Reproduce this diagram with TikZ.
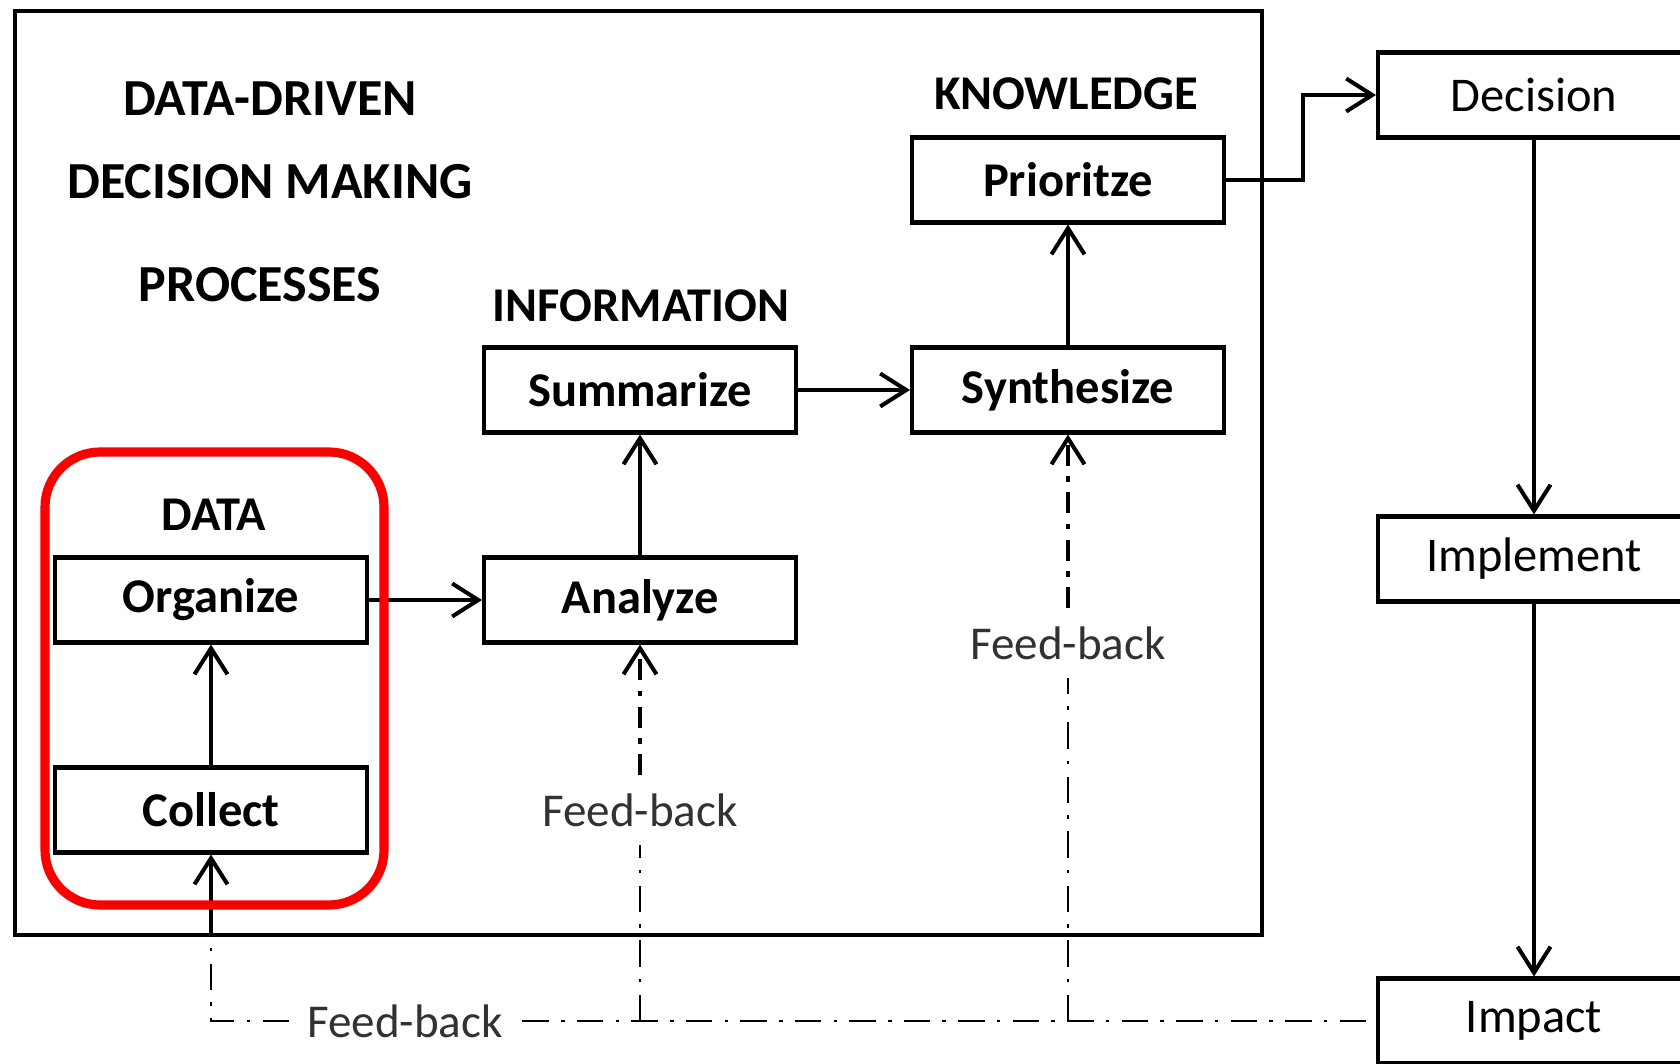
\documentclass[tikz,border=0pt]{standalone}
\usepackage{fontspec}
\setmainfont{Carlito}
\usetikzlibrary{arrows.meta,positioning,calc}
\definecolor{markred}{RGB}{250,0,0}
\definecolor{fbgray}{RGB}{50,50,50}

\begin{document}
\begin{tikzpicture}[x=0.1mm,y=-0.1mm,
  stepbox/.style={draw,line width=1.15pt,minimum width=31.2mm,minimum height=8.5mm,inner sep=0pt,font=\fontsize{13.8}{16}\selectfont\bfseries},
  outbox/.style={stepbox,font=\fontsize{13.8}{16}\selectfont},
  heading/.style={font=\fontsize{13.8}{16}\selectfont\bfseries},
  bigtitle/.style={font=\fontsize{14.8}{17}\selectfont\bfseries},
  flow/.style={line width=1.15pt,-{Straight Barb[length=2.6mm,width=3.3mm]}},
  fb/.style={line width=0.6pt,dash pattern=on 7.5pt off 3.5pt on 1pt off 3.5pt},
  fbthick/.style={line width=1.4pt,dash pattern=on 6pt off 3pt on 1.5pt off 3pt},
  fbtext/.style={font=\fontsize{13.4}{16}\selectfont,text=fbgray,fill=white,inner sep=5pt}]
  \useasboundingbox (0,0) rectangle (1680,1064);
  \clip (0,0) rectangle (1680,1064);

  % frame of the process part
  \draw[line width=1pt] (15,11) rectangle (1262,935);
  \node[bigtitle] (title1) at (270,99) {DATA-DRIVEN};
  \node[bigtitle] (title2) at (270,182) {DECISION MAKING};
  \node[bigtitle] (title3) at (260,285) {PROCESSES};

  % steps
  \node[heading] (hdata) at (214,515) {DATA};
  \node[heading] (hinfo) at (641,306) {INFORMATION};
  \node[heading] (hknow) at (1066,94) {KNOWLEDGE};
  \node[stepbox] (organize) at (211,600) {Organize};
  \node[stepbox] (collect) at (211,810) {Collect};
  \node[stepbox] (analyze) at (640,600) {Analyze};
  \node[stepbox] (summarize) at (640,390) {Summarize};
  \node[stepbox] (synthesize) at (1068,390) {Synthesize};
  \node[stepbox] (prioritze) at (1068,180) {Prioritze};

  % outcome column
  \node[outbox] (decision) at (1534,95) {Decision};
  \node[outbox] (implement) at (1534,559) {Implement};
  \node[outbox] (impact) at (1534,1021) {Impact};

  \draw[flow] (collect) -- (organize);
  \draw[flow] (organize) -- (analyze);
  \draw[flow] (analyze) -- (summarize);
  \draw[flow] (summarize) -- (synthesize);
  \draw[flow] (synthesize) -- (prioritze);
  \draw[flow] (prioritze.east) -- ++(77,0) |- (decision.west);
  \draw[flow] (decision) -- (implement);
  \draw[flow] (implement) -- (impact);

  % feed-back loops
  \coordinate (fbcorner) at (collect.south |- impact.west);
  \coordinate (fbframe) at (collect.south |- 0,935);
  \coordinate (fbinfo) at (analyze.south |- impact.west);
  \coordinate (fbknow) at (synthesize.south |- impact.west);
  \node[fbtext] (fb1) at (405,1021) {Feed-back};
  \node[fbtext] (fb2) at (640,810) {Feed-back};
  \node[fbtext] (fb3) at (1068,643) {Feed-back};
  \draw[fb,shorten <=1mm] (impact.west) -- (fb1);
  \draw[fb] (fb1) -- (fbcorner) -- (fbframe);
  \draw[flow] (fbframe) -- (collect.south);
  \draw[fb] (fbinfo) -- (fb2);
  \draw[fbthick,-{Straight Barb[length=2.6mm,width=3.3mm,line width=1.15pt]}] (fb2) -- (analyze);
  \draw[fb] (fbknow) -- (fb3);
  \draw[fbthick,-{Straight Barb[length=2.6mm,width=3.3mm,line width=1.15pt]}] (fb3) -- (synthesize);

  % highlight of the data step
  \draw[markred,line width=2.6pt,rounded corners=5.5mm] (45,452) rectangle (384,905);
\end{tikzpicture}
\end{document}
